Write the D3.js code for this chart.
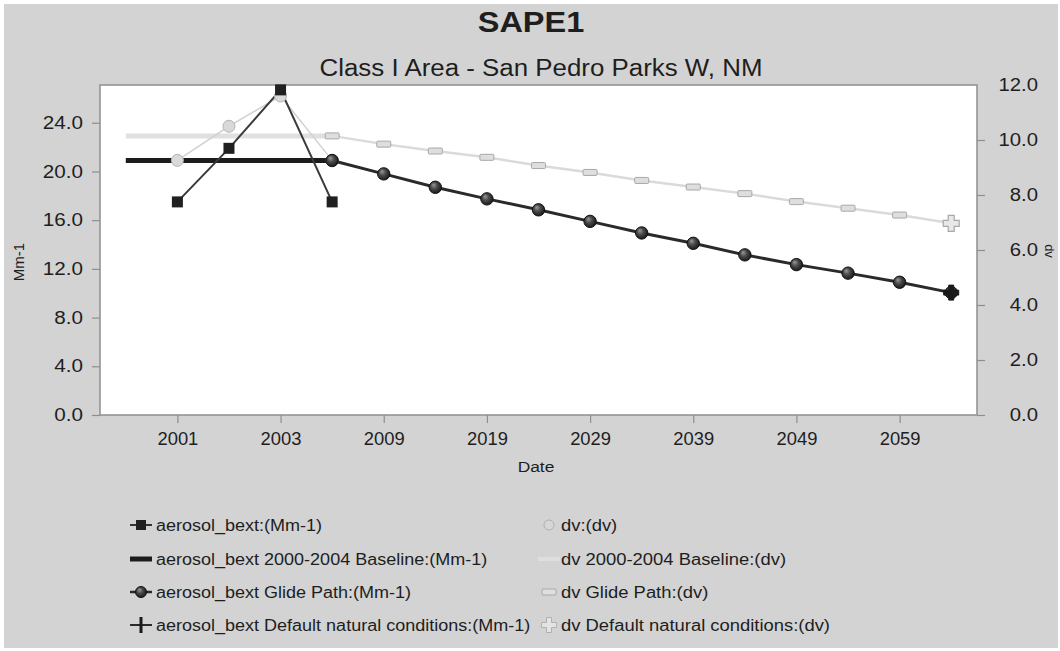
<!DOCTYPE html>
<html>
<head>
<meta charset="utf-8">
<script src="https://cdn.jsdelivr.net/npm/d3@7"></script>
<style>
  html, body { margin: 0; padding: 0; background: #ffffff; }
  svg { display: block; }
  text { font-family: "Liberation Sans", Arial, sans-serif; fill: #1e1e1e; }
</style>
</head>
<body>
<svg id="chart" width="1060" height="651"></svg>
<script>
// ---------------- data ----------------
const categories = ["2000","2001","2002","2003","2004","2009","2014","2019","2024","2029","2034","2039","2044","2049","2054","2059","2064"];
const xTickLabels = ["2001","2003","2009","2019","2029","2039","2049","2059"];
const leftTicks = [0, 4, 8, 12, 16, 20, 24];
const rightTicks = [0, 2, 4, 6, 8, 10, 12];

const bextYears = ["2001","2002","2003","2004"];
const bextValues = [17.5, 21.9, 26.7, 17.5];

const baselineYears = ["2000","2001","2002","2003","2004"];
const bextBaseline = [20.9, 20.9, 20.9, 20.9, 20.9];
const dvBaseline = [10.15, 10.15, 10.15, 10.15, 10.15];

const dvYears = ["2001","2002","2003","2004"];
const dvValues = [9.26, 10.5, 11.6, 9.26];

const glideYears = ["2004","2009","2014","2019","2024","2029","2034","2039","2044","2049","2054","2059","2064"];
const glideBext = [20.9, 19.8, 18.7, 17.75, 16.85, 15.9, 14.95, 14.1, 13.15, 12.35, 11.65, 10.9, 10.05];
const glideDv = [10.15, 9.85, 9.6, 9.37, 9.07, 8.82, 8.53, 8.29, 8.05, 7.76, 7.52, 7.27, 6.97];

const naturalYears = ["2064"];
const naturalBext = [10.05];
const naturalDv = [6.97];

const legendLeft = ["aerosol_bext:(Mm-1)", "aerosol_bext 2000-2004 Baseline:(Mm-1)", "aerosol_bext Glide Path:(Mm-1)", "aerosol_bext Default natural conditions:(Mm-1)"];
const legendRight = ["dv:(dv)", "dv 2000-2004 Baseline:(dv)", "dv Glide Path:(dv)", "dv Default natural conditions:(dv)"];

// ---------------- layout ----------------
const W = 1060, H = 651;
const plot = { left: 100, right: 977, top: 85, bottom: 415 };

const svg = d3.select("#chart");

function stretch(sel, f) {
  sel.each(function () {
    const w = this.getComputedTextLength();
    d3.select(this).attr("textLength", w * f).attr("lengthAdjust", "spacingAndGlyphs");
  });
  return sel;
}

// background
svg.append("rect").attr("x", 0).attr("y", 0).attr("width", W).attr("height", H).attr("fill", "#ffffff");
svg.append("rect").attr("x", 4).attr("y", 4).attr("width", W - 6).attr("height", H - 7).attr("fill", "#d3d3d3");

// scales
const x = d3.scalePoint().domain(categories).range([plot.left, plot.right]).padding(0.5);
const yL = d3.scaleLinear().domain([0, 27.1]).range([plot.bottom, plot.top]);
const yR = d3.scaleLinear().domain([0, 12]).range([plot.bottom, plot.top]);

// plot area
svg.append("rect")
  .attr("x", plot.left).attr("y", plot.top)
  .attr("width", plot.right - plot.left).attr("height", plot.bottom - plot.top)
  .attr("fill", "#ffffff").attr("stroke", "#8e8e8e").attr("stroke-width", 1.5);

// axes
const axisL = svg.append("g").attr("transform", `translate(${plot.left},0)`)
  .call(d3.axisLeft(yL).tickValues(leftTicks).tickFormat(d3.format(".1f")).tickSize(8).tickPadding(9));
const axisR = svg.append("g").attr("transform", `translate(${plot.right},0)`)
  .call(d3.axisRight(yR).tickValues(rightTicks).tickFormat(d3.format(".1f")).tickSize(8).tickPadding(0));
const axisB = svg.append("g").attr("transform", `translate(0,${plot.bottom})`)
  .call(d3.axisBottom(x).tickValues(xTickLabels).tickSize(8).tickPadding(10));

[axisL, axisR, axisB].forEach(a => {
  a.select(".domain").remove();
  a.selectAll(".tick line").attr("stroke", "#8e8e8e").attr("stroke-width", 1.2);
  a.selectAll(".tick text").attr("font-size", 17.5).attr("fill", "#1e1e1e")
    .style("font-family", '"Liberation Sans", Arial, sans-serif');
});
axisR.selectAll(".tick text").attr("text-anchor", "end").attr("x", 61);
axisR.selectAll(".tick").filter(d => d === 12).select("line").remove();
stretch(axisL.selectAll(".tick text"), 1.18);
stretch(axisR.selectAll(".tick text"), 1.16);
stretch(axisB.selectAll(".tick text"), 1.05);

// titles
stretch(svg.append("text").attr("x", 531).attr("y", 32).attr("text-anchor", "middle")
  .attr("font-size", 29).attr("font-weight", "bold").attr("fill", "#3a3a3a").text("SAPE1"), 1.12);
stretch(svg.append("text").attr("x", 541).attr("y", 76).attr("text-anchor", "middle")
  .attr("font-size", 23).text("Class I Area - San Pedro Parks W, NM"), 1.125);
stretch(svg.append("text").attr("x", 536).attr("y", 472).attr("text-anchor", "middle")
  .attr("font-size", 15.5).text("Date"), 1.12);
svg.append("text").attr("transform", "translate(24,262) rotate(-90)").attr("text-anchor", "middle")
  .attr("font-size", 15).text("Mm-1");
svg.append("text").attr("transform", "translate(1045,251) rotate(90)").attr("text-anchor", "middle")
  .attr("font-size", 13).text("dv");

// defs: gradient for glide path spheres
const defs = svg.append("defs");
const grad = defs.append("radialGradient").attr("id", "sphere").attr("cx", "45%").attr("cy", "45%").attr("r", "60%").attr("fx", "35%").attr("fy", "30%");
grad.append("stop").attr("offset", "0%").attr("stop-color", "#9a9a9a");
grad.append("stop").attr("offset", "45%").attr("stop-color", "#4a4a4a");
grad.append("stop").attr("offset", "100%").attr("stop-color", "#151515");

const g = svg.append("g");

// helpers
const zip = (ks, vs) => ks.map((k, i) => ({ k, v: vs[i] }));
const lineL = d3.line().x(d => x(d.k)).y(d => yL(d.v));
const lineR = d3.line().x(d => x(d.k)).y(d => yR(d.v));

const plusPath = (s, w) => {
  const a = s / 2, b = w / 2;
  return `M${-b},${-a}H${b}V${-b}H${a}V${b}H${b}V${a}H${-b}V${b}H${-a}V${-b}H${-b}Z`;
};

// baselines
g.append("path").datum(zip(baselineYears, dvBaseline)).attr("d", lineR)
  .attr("fill", "none").attr("stroke", "#e0e0e0").attr("stroke-width", 5);
g.append("path").datum(zip(baselineYears, bextBaseline)).attr("d", lineL)
  .attr("fill", "none").attr("stroke", "#1c1c1c").attr("stroke-width", 5);

// dv glide path line
g.append("path").datum(zip(glideYears, glideDv)).attr("d", lineR)
  .attr("fill", "none").attr("stroke", "#dadada").attr("stroke-width", 2.5);
// dv line
g.append("path").datum(zip(dvYears, dvValues)).attr("d", lineR)
  .attr("fill", "none").attr("stroke", "#d2d2d2").attr("stroke-width", 1.5);
// bext glide line
g.append("path").datum(zip(glideYears, glideBext)).attr("d", lineL)
  .attr("fill", "none").attr("stroke", "#2a2a2a").attr("stroke-width", 3);
// bext line
g.append("path").datum(zip(bextYears, bextValues)).attr("d", lineL)
  .attr("fill", "none").attr("stroke", "#3a3a3a").attr("stroke-width", 2);

// markers: dv glide rects
g.selectAll(".dvg").data(zip(glideYears, glideDv).slice(0, -1)).join("rect")
  .attr("x", d => x(d.k) - 7).attr("y", d => yR(d.v) - 3).attr("width", 14).attr("height", 6).attr("rx", 1)
  .attr("fill", "#dedede").attr("stroke", "#a8a8a8").attr("stroke-width", 1);
// dv natural plus
g.selectAll(".dvn").data(zip(naturalYears, naturalDv)).join("path")
  .attr("transform", d => `translate(${x(d.k)},${yR(d.v)})`).attr("d", plusPath(16, 6))
  .attr("fill", "#e8e8e8").attr("stroke", "#a8a8a8").attr("stroke-width", 1.2);
// dv circles
g.selectAll(".dvc").data(zip(dvYears, dvValues)).join("circle")
  .attr("cx", d => x(d.k)).attr("cy", d => yR(d.v)).attr("r", 6)
  .attr("fill", "#d9d9d9").attr("stroke", "#b4b4b4").attr("stroke-width", 1);
// bext glide spheres
g.selectAll(".bg").data(zip(glideYears, glideBext)).join("circle")
  .attr("cx", d => x(d.k)).attr("cy", d => yL(d.v)).attr("r", 6.2)
  .attr("fill", "url(#sphere)").attr("stroke", "#111").attr("stroke-width", 1);
// bext natural plus
g.selectAll(".bn").data(zip(naturalYears, naturalBext)).join("path")
  .attr("transform", d => `translate(${x(d.k)},${yL(d.v)})`).attr("d", plusPath(15, 5))
  .attr("fill", "#1a1a1a").attr("stroke", "#1a1a1a").attr("stroke-width", 1);
// bext squares
g.selectAll(".bs").data(zip(bextYears, bextValues)).join("rect")
  .attr("x", d => x(d.k) - 5.5).attr("y", d => yL(d.v) - 5.5).attr("width", 11).attr("height", 11)
  .attr("fill", "#202020");

// ---------------- legend ----------------
const rowY = [525, 559, 592, 625];
const lg = svg.append("g");
const lx = 141, rx = 549;

// left column markers
lg.append("line").attr("x1", lx - 11).attr("x2", lx + 11).attr("y1", rowY[0]).attr("y2", rowY[0]).attr("stroke", "#333").attr("stroke-width", 2);
lg.append("rect").attr("x", lx - 5).attr("y", rowY[0] - 5).attr("width", 10).attr("height", 10).attr("fill", "#202020");
lg.append("line").attr("x1", lx - 11).attr("x2", lx + 11).attr("y1", rowY[1]).attr("y2", rowY[1]).attr("stroke", "#1c1c1c").attr("stroke-width", 5);
lg.append("line").attr("x1", lx - 11).attr("x2", lx + 11).attr("y1", rowY[2]).attr("y2", rowY[2]).attr("stroke", "#2a2a2a").attr("stroke-width", 2.5);
lg.append("circle").attr("cx", lx).attr("cy", rowY[2]).attr("r", 5.5).attr("fill", "url(#sphere)").attr("stroke", "#111");
lg.append("line").attr("x1", lx - 11).attr("x2", lx + 11).attr("y1", rowY[3]).attr("y2", rowY[3]).attr("stroke", "#2a2a2a").attr("stroke-width", 2);
lg.append("line").attr("x1", lx).attr("x2", lx).attr("y1", rowY[3] - 8).attr("y2", rowY[3] + 8).attr("stroke", "#1a1a1a").attr("stroke-width", 3);

// right column markers
lg.append("circle").attr("cx", rx).attr("cy", rowY[0]).attr("r", 5).attr("fill", "#d6d6d6").attr("stroke", "#b0b0b0");
lg.append("line").attr("x1", rx - 11).attr("x2", rx + 11).attr("y1", rowY[1]).attr("y2", rowY[1]).attr("stroke", "#dedede").attr("stroke-width", 4);
lg.append("rect").attr("x", rx - 7).attr("y", rowY[2] - 3).attr("width", 14).attr("height", 6).attr("rx", 1).attr("fill", "#dedede").attr("stroke", "#a8a8a8");
lg.append("path").attr("transform", `translate(${rx},${rowY[3]})`).attr("d", plusPath(15, 5)).attr("fill", "#e4e4e4").attr("stroke", "#b0b0b0");

stretch(lg.selectAll(".ll").data(legendLeft).join("text").attr("class", "ll")
  .attr("x", 156).attr("y", (d, i) => rowY[i] + 6).attr("font-size", 16).text(d => d), 1.125);
stretch(lg.selectAll(".lr").data(legendRight).join("text").attr("class", "lr")
  .attr("x", 561).attr("y", (d, i) => rowY[i] + 6).attr("font-size", 16).text(d => d), 1.15);
</script>
</body>
</html>
